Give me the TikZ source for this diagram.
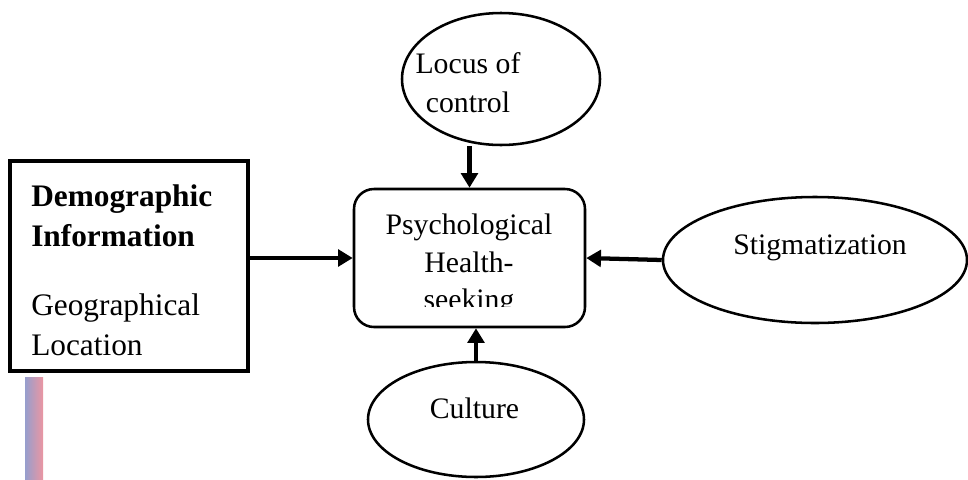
\documentclass[tikz,border=0pt]{standalone}
\usepackage{fontspec}
\setmainfont{Liberation Serif}
\usetikzlibrary{arrows.meta}
\usetikzlibrary{shapes}
\definecolor{stripblue}{RGB}{150,158,205}
\definecolor{strippink}{RGB}{235,150,162}

\begin{document}
\begin{tikzpicture}[x = 0.75pt, y = -0.75pt]
\tikzstyle{BoxStyle}=[shape = rectangle, draw, line width = 2.3pt,
                      minimum width = 178.5pt, minimum height = 157.5pt]
\tikzstyle{RoundStyle}=[shape = rectangle, rounded corners = 15pt, draw,
                        line width = 1.9pt,
                        minimum width = 173.25pt, minimum height = 103.5pt]
\tikzstyle{OvalStyle}=[shape = ellipse, draw, line width = 1.9pt, inner sep = 0pt]
\tikzstyle{LabelStyle}=[align = center, inner sep = 0pt,
                        font = \fontsize{22.3}{28.3}\selectfont]
\tikzstyle{FlowStyle}=[-{Triangle[length = 11pt, width = 12.5pt]}, line width = 3.2pt]
\useasboundingbox (0,0) rectangle (968,479);
% left box
\node[BoxStyle] (demo) at (129,266) {};
\node[LabelStyle, align = left, anchor = north west,
      font = \fontsize{23.5}{30}\selectfont] (demotext) at (31,184)
  {\textbf{Demographic}\\\textbf{Information}\\[22pt]Geographical\\Location};
% centre
\node[RoundStyle] (psych) at (469.5,258) {};
\begin{scope}
\clip (354,189) rectangle (585,306.5);
\node[LabelStyle] (psychtext) at (469,265) {Psychological\\Health-\\seeking};
\end{scope}
% ovals
\node[OvalStyle, minimum width = 148.5pt, minimum height = 99pt] (locus) at (501,79) {};
\node[LabelStyle, font = \fontsize{22.3}{29.3}\selectfont] (locustext) at (468,83) {Locus of\\control};
\node[OvalStyle, minimum width = 228pt, minimum height = 94.5pt] (stig) at (815,260) {};
\node[LabelStyle] (stigtext) at (820,248) {Stigmatization};
\node[OvalStyle, minimum width = 162pt, minimum height = 86.25pt] (culture) at (476,419.5) {};
\node[LabelStyle] (culturetext) at (474.5,408.5) {Culture};
% arrows
\draw[FlowStyle] (psych.west -| demo.east) -- (psych.west);
\draw[FlowStyle] (psych.north |- locus.south) -- (psych.north);
\draw[FlowStyle] (stig.west) -- (psych.east);
\draw[FlowStyle] (culture.north) -- (culture.north |- psych.south);
% strip
\shade[left color = stripblue, right color = strippink] (25,377) rectangle (43,479);
\end{tikzpicture}
\end{document}
